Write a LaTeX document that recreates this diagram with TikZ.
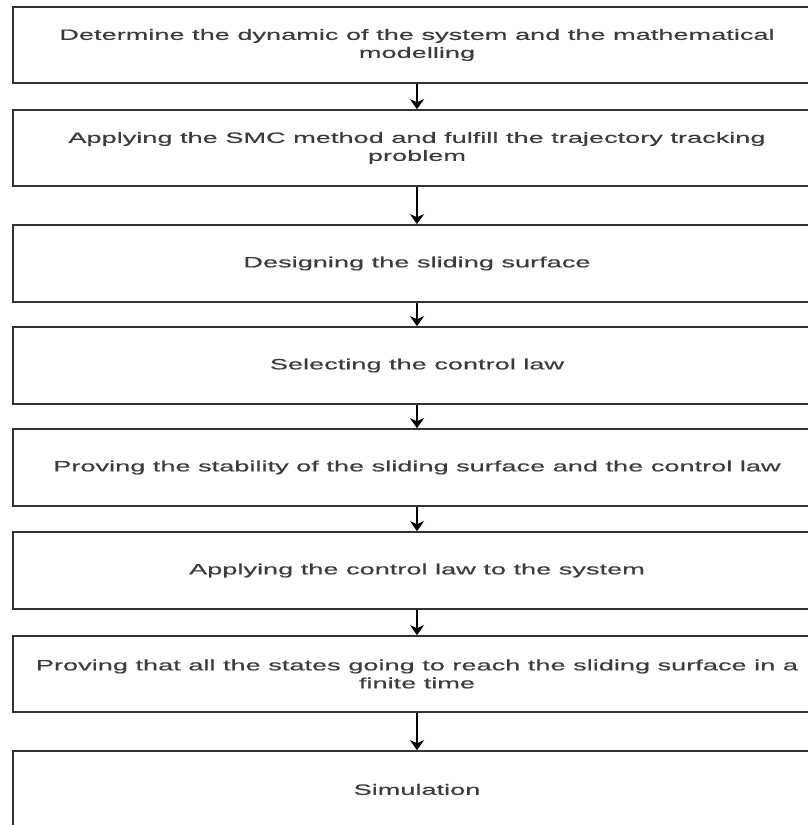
\documentclass[tikz,border=0pt]{standalone}
\usepackage{fontspec}
\setmainfont{Liberation Sans}[FakeStretch=1.81,FakeBold=0.4]
\usetikzlibrary{arrows.meta}
\definecolor{linec}{HTML}{333333}
\definecolor{textc}{HTML}{3C3C3C}
\tikzset{
  stepbox/.style={draw=linec, line width=1.6pt, fill=white, rectangle,
    minimum width=808pt, inner sep=0pt, align=center, text=textc,
    font=\fontsize{15}{18}\selectfont},
  flow/.style={draw=black, line width=1.5pt,
    -{Stealth[width=14pt,length=10pt,inset=3pt]}}
}
\begin{document}
\begin{tikzpicture}[x=1pt,y=-1pt]
\useasboundingbox (0,0) rectangle (808,825);
\clip (0,0) rectangle (808,825);
\fill[white] (0,0) rectangle (808,825);
\node[stepbox, minimum height=76pt] (b1) at (417,45)
  {Determine the dynamic of the system and the mathematical\\modelling};
\node[stepbox, minimum height=76pt] (b2) at (417,148)
  {Applying the SMC method and fulfill the trajectory tracking\\problem};
\node[stepbox, minimum height=77pt] (b3) at (417,263.5)
  {Designing the sliding surface};
\node[stepbox, minimum height=77pt] (b4) at (417,365.5)
  {Selecting the control law};
\node[stepbox, minimum height=77pt] (b5) at (417,467.5)
  {Proving the stability of the sliding surface and the control law};
\node[stepbox, minimum height=77pt] (b6) at (417,570.5)
  {Applying the control law to the system};
\node[stepbox, minimum height=76pt] (b7) at (417,674)
  {Proving that all the states going to reach the sliding surface in a\\finite time};
\node[stepbox, minimum height=77pt] (b8) at (417,789.5)
  {Simulation};
\draw[flow] (b1.south) -- (b2.north);
\draw[flow] (b2.south) -- (b3.north);
\draw[flow] (b3.south) -- (b4.north);
\draw[flow] (b4.south) -- (b5.north);
\draw[flow] (b5.south) -- (b6.north);
\draw[flow] (b6.south) -- (b7.north);
\draw[flow] (b7.south) -- (b8.north);
\end{tikzpicture}
\end{document}
